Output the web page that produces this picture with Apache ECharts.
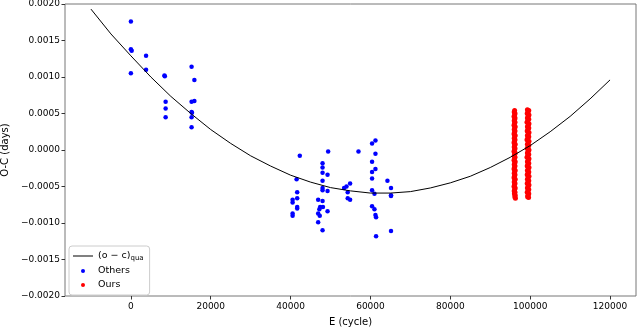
<!DOCTYPE html>
<html>
<head>
<meta charset="utf-8">
<script src="https://cdn.jsdelivr.net/npm/echarts@6/dist/echarts.min.js"></script>
<style>
  html, body { margin: 0; padding: 0; background: #fff; }
  #main { width: 637px; height: 331px; }
</style>
</head>
<body>
<div id="main"></div>
<script>
// tick labels
var xTicks = [0, 20000, 40000, 60000, 80000, 100000, 120000];
var yTicks = [-0.002, -0.0015, -0.001, -0.0005, 0, 0.0005, 0.001, 0.0015, 0.002];

// quadratic fit (o-c)qua
var fitE = [-10000, -5000, 0, 5000, 10000, 15000, 20000, 25000, 30000, 35000, 40000, 45000, 50000, 55000, 60000,
  65000, 70000, 75000, 80000, 85000, 90000, 95000, 100000, 105000, 110000, 115000, 120000];
var fitOC = [0.00193, 0.00159, 0.00129, 0.00100, 0.000735, 0.00050, 0.00028, 0.00009, -0.00008, -0.00022, -0.000345,
  -0.00044, -0.000515, -0.00056, -0.00059, -0.00059, -0.00057, -0.00052, -0.00045, -0.00036, -0.00024, -0.00010,
  0.00006, 0.00025, 0.00046, 0.00070, 0.00096];

// other authors' minima [E, O-C]
var others = [
  [0, 0.00176], [0, 0.00138], [200, 0.00136], [0, 0.00105],
  [3800, 0.00129], [3800, 0.00110],
  [8400, 0.00102], [8500, 0.00101], [8700, 0.00066], [8700, 0.00057], [8700, 0.00045],
  [15200, 0.00114], [15900, 0.00096], [15200, 0.00066], [15900, 0.00067], [15200, 0.00052],
  [15300, 0.00051], [15200, 0.00045], [15200, 0.00031],
  [42300, -0.00008], [41500, -0.00040], [41650, -0.00058], [41650, -0.00066], [40500, -0.00068],
  [40500, -0.00072], [41650, -0.00078], [41650, -0.00080], [40500, -0.00087], [40500, -0.00090],
  [49400, -0.00002], [48000, -0.00018], [48000, -0.00024], [48000, -0.00031], [49250, -0.00034],
  [48000, -0.00042], [48000, -0.00052], [48000, -0.00055], [49250, -0.00056], [46900, -0.00068],
  [48000, -0.00070], [47400, -0.00078], [47200, -0.00081], [48100, -0.00078], [49250, -0.00084],
  [46900, -0.00087], [47300, -0.00090], [46900, -0.00099], [48000, -0.00110],
  [53400, -0.00052], [54000, -0.00050], [54900, -0.00046], [54300, -0.00058], [54300, -0.00066], [54900, -0.00068],
  [57000, -0.00002],
  [61250, 0.00013], [60400, 0.00009], [61250, -0.00005], [60400, -0.00016], [61250, -0.00026],
  [60400, -0.00030], [60400, -0.00039], [60400, -0.00055], [61000, -0.00060], [60400, -0.00077],
  [61000, -0.00081], [61250, -0.00089], [61400, -0.00092], [61400, -0.00118],
  [64250, -0.00042], [65150, -0.00052], [65150, -0.00062], [65150, -0.00063], [65150, -0.00111]
];

// our minima, two dense runs [E, O-C]
var ours = [
  [96100, 0.00054], [96000, 0.00052], [96200, 0.00050], [96100, 0.00048], [95950, 0.00046],
  [96200, 0.00044], [96100, 0.00042], [96000, 0.00040], [96200, 0.00038], [96050, 0.00036],
  [95950, 0.00034], [96250, 0.00032], [96100, 0.00030], [96000, 0.00028], [96200, 0.00026],
  [96050, 0.00024], [95950, 0.00022], [96250, 0.00020], [96100, 0.00018], [96000, 0.00016],
  [96200, 0.00014], [96050, 0.00012], [95950, 0.00010], [96250, 0.00008], [96100, 0.00006],
  [96000, 0.00004], [96200, 0.00002], [96050, 0.00000], [95950, -0.00002], [96250, -0.00004],
  [96100, -0.00006], [96000, -0.00008], [96200, -0.00010], [96050, -0.00012], [95950, -0.00014],
  [96250, -0.00016], [96100, -0.00018], [96000, -0.00020], [96200, -0.00022], [96050, -0.00024],
  [95950, -0.00026], [96250, -0.00028], [96100, -0.00030], [96000, -0.00032], [96200, -0.00034],
  [96050, -0.00036], [95950, -0.00038], [96250, -0.00040], [96100, -0.00042], [96000, -0.00044],
  [96200, -0.00046], [96050, -0.00048], [95950, -0.00050], [96250, -0.00052], [96100, -0.00054],
  [96000, -0.00056], [96200, -0.00058], [96050, -0.00060], [96250, -0.00062], [96150, -0.00064],
  [96300, -0.00066],
  [99300, 0.00055], [99650, 0.00054], [99450, 0.00052], [99250, 0.00050], [99700, 0.00048],
  [99500, 0.00046], [99300, 0.00044], [99650, 0.00042], [99400, 0.00040], [99200, 0.00038],
  [99700, 0.00036], [99500, 0.00034], [99300, 0.00032], [99650, 0.00030], [99450, 0.00028],
  [99250, 0.00026], [99700, 0.00024], [99500, 0.00022], [99300, 0.00020], [99650, 0.00018],
  [99400, 0.00016], [99200, 0.00014], [99700, 0.00012], [99500, 0.00010], [99300, 0.00008],
  [99650, 0.00006], [99450, 0.00004], [99250, 0.00002], [99700, 0.00000], [99500, -0.00002],
  [99300, -0.00004], [99650, -0.00006], [99400, -0.00008], [99200, -0.00010], [99700, -0.00012],
  [99500, -0.00014], [99300, -0.00016], [99650, -0.00018], [99450, -0.00020], [99250, -0.00022],
  [99700, -0.00024], [99500, -0.00026], [99300, -0.00028], [99650, -0.00030], [99450, -0.00032],
  [99250, -0.00034], [99700, -0.00036], [99500, -0.00038], [99300, -0.00040], [99650, -0.00042],
  [99450, -0.00044], [99250, -0.00046], [99700, -0.00048], [99500, -0.00050], [99300, -0.00052],
  [99650, -0.00054], [99450, -0.00056], [99250, -0.00058], [99650, -0.00060], [99450, -0.00062],
  [99350, -0.00064], [99600, -0.00065]
];

var fitLine = fitE.map(function (e, i) { return [e, fitOC[i]]; });

var chart = echarts.init(document.getElementById('main'));
var font = 'DejaVu Sans';

chart.setOption({
  animation: false,
  grid: {
    left: 65, right: 1, top: 4, bottom: 35,
    outerBoundsMode: 'none',
    show: true, borderColor: '#777', borderWidth: 1, backgroundColor: '#fff'
  },
  legend: {
    orient: 'vertical',
    left: 69, top: 246,
    itemWidth: 20, itemHeight: 4, itemGap: 4,
    padding: [5, 6, 5, 4],
    backgroundColor: '#fff',
    borderColor: '#ccc', borderWidth: 1, borderRadius: 3,
    data: [
      { name: 'fit', icon: 'path://M0,0H20V1H0Z' },
      { name: 'Others', icon: 'circle' },
      { name: 'Ours', icon: 'circle' }
    ],
    formatter: function (name) {
      return name === 'fit' ? '(o − c){sub|qua}' : name;
    },
    textStyle: {
      fontFamily: font, fontSize: 9.5, color: '#000',
      rich: { sub: { fontFamily: font, fontSize: 7, padding: [5, 0, 0, 0], color: '#000' } }
    }
  },
  xAxis: {
    type: 'value',
    min: -16500, max: 126500,
    name: 'E (cycle)', nameLocation: 'middle', nameGap: 21,
    nameTextStyle: { fontFamily: font, fontSize: 10, color: '#000' },
    axisLine: { show: false, onZero: false },
    axisTick: { show: true, length: 3.5, lineStyle: { color: '#333' }, customValues: xTicks },
    axisLabel: {
      fontFamily: font, fontSize: 9, color: '#000', margin: 6,
      customValues: xTicks,
      formatter: function (v) { return String(v); }
    },
    splitLine: { show: false }
  },
  yAxis: {
    type: 'value',
    min: -0.002, max: 0.002, interval: 0.0005,
    name: 'O-C (days)', nameLocation: 'middle', nameGap: 52,
    nameTextStyle: { fontFamily: font, fontSize: 10, color: '#000' },
    axisLine: { show: false, onZero: false },
    axisTick: { show: true, length: 3.5, lineStyle: { color: '#333' } },
    axisLabel: {
      fontFamily: font, fontSize: 9, color: '#000', margin: 5,
      formatter: function (v) {
        var s = Math.abs(v).toFixed(4);
        return (v < -1e-9 ? '−' : '') + s;
      }
    },
    splitLine: { show: false }
  },
  series: [
    {
      name: 'fit', type: 'line', data: fitLine, smooth: false,
      showSymbol: false, symbol: 'none',
      lineStyle: { color: '#000', width: 1 },
      itemStyle: { color: '#000' },
      z: 3
    },
    {
      name: 'Others', type: 'scatter', data: others,
      symbolSize: 4.5, itemStyle: { color: '#0000ff', opacity: 1 }, z: 2
    },
    {
      name: 'Ours', type: 'scatter', data: ours,
      symbolSize: 5, itemStyle: { color: '#ff0000', opacity: 1 }, z: 2
    }
  ]
});
</script>
</body>
</html>
